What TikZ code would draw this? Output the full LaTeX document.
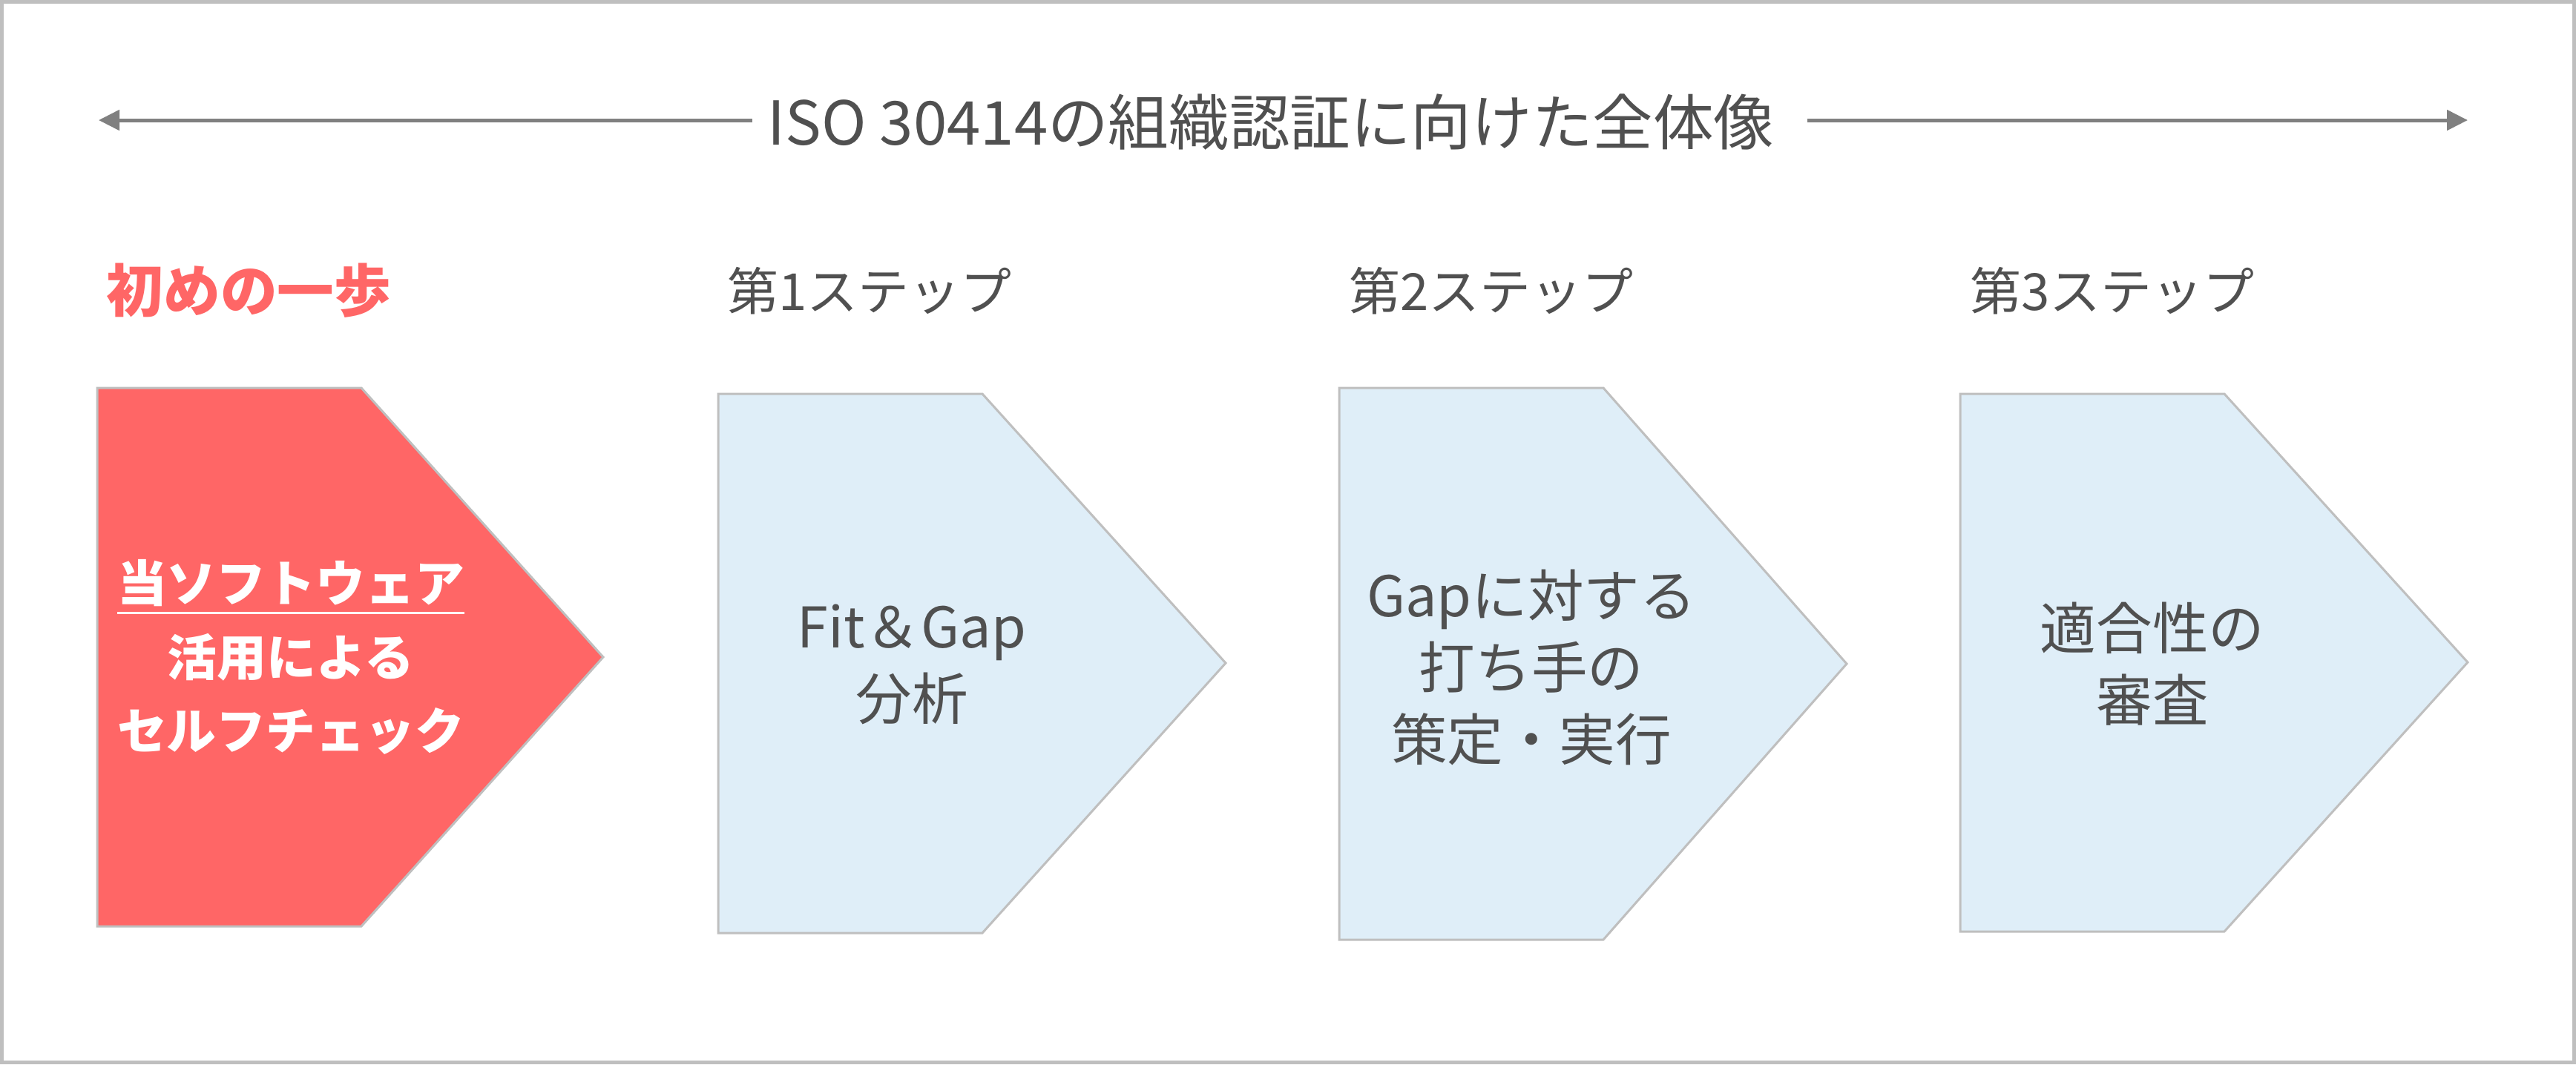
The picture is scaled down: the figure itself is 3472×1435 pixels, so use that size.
\documentclass[tikz,border=0pt]{standalone}
\usepackage{fontspec}
\setmainfont{Noto Sans CJK JP}
\usetikzlibrary{arrows.meta}
\definecolor{ink}{HTML}{505050}
\definecolor{coral}{HTML}{FF6666}
\definecolor{ice}{HTML}{DFEEF8}
\definecolor{rim}{HTML}{BFBFBF}
\definecolor{axisgray}{HTML}{808080}
\newcommand{\ulined}[1]{\setbox0=\hbox{#1}\rlap{\rule[-4.5pt]{\wd0}{0.9pt}}\box0}

\begin{document}
\begin{tikzpicture}[x=0.01cm,y=-0.01cm,
    steplabel/.style={anchor=west,inner sep=0pt,text=ink,font=\fontsize{19.6}{24}\selectfont},
    boxtext/.style={align=center,text=ink,font=\fontsize{21.5}{27.6}\selectfont},
    blueshape/.style={fill=ice,draw=rim,line width=0.03cm},
    span/.style={draw=axisgray,line width=0.05cm,-{Triangle[length=0.28cm,width=0.27cm]}}]
    \useasboundingbox (0,0) rectangle (3472,1435);
    \draw[rim,line width=0.05cm] (2.5,2.5) rectangle (3469.5,1432.5);

    % overall arrow
    \node[text=ink,font=\fontsize{23.2}{27}\selectfont,inner xsep=0.2cm] (title) at (1713,165) {ISO 30414の組織認証に向けた全体像};
    \coordinate (spanL) at (133,162);
    \coordinate (spanR) at (3326,162);
    \draw[span] (title.west |- spanL) -- (spanL);
    \draw[span,shorten <=0.24cm] (title.east |- spanR) -- (spanR);

    % steps
    \draw[fill=coral,draw=rim,line width=0.03cm] (131,523) -- (487,523) -- (813,886) -- (487,1249) -- (131,1249) -- cycle;
    \draw[blueshape] (968,531) -- (1324,531) -- (1652,894) -- (1324,1258) -- (968,1258) -- cycle;
    \draw[blueshape] (1805,523) -- (2161,523) -- (2489,895) -- (2161,1267) -- (1805,1267) -- cycle;
    \draw[blueshape] (2642,531) -- (2998,531) -- (3326,893) -- (2998,1256) -- (2642,1256) -- cycle;

    \node[steplabel,text=coral,font=\bfseries\fontsize{21.8}{25}\selectfont] (first) at (143,392) {初めの一歩};
    \node[steplabel] (step1) at (980,392) {第1ステップ};
    \node[steplabel] (step2) at (1818,392) {第2ステップ};
    \node[steplabel] (step3) at (2655,392) {第3ステップ};

    \node[align=center,text=white,font=\bfseries\fontsize{19}{28.2}\selectfont] (selfcheck) at (392,886) {\ulined{当ソフトウェア}\\活用による\\セルフチェック};
    \node[boxtext] (fitgap) at (1229,896) {Fit＆Gap\\分析};
    \node[boxtext] (measures) at (2064,900) {Gapに対する\\打ち手の\\策定・実行};
    \node[boxtext] (review) at (2901,895) {適合性の\\審査};
  \end{tikzpicture}
\end{document}
